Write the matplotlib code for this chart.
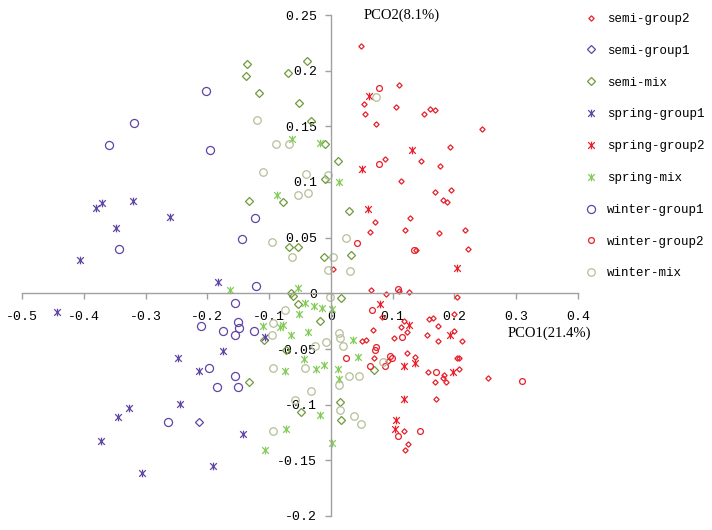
import matplotlib
matplotlib.use("Agg")
import matplotlib.pyplot as plt
from matplotlib.path import Path

# ---------------- data ----------------
semi_group2_x = [0.049, 0.110, 0.054, 0.106, 0.056, 0.151, 0.160, 0.169, 0.073, 0.244,
                 0.192, 0.146, 0.177, 0.087, 0.113, 0.168, 0.194, 0.182, 0.188, 0.128,
                 0.072, 0.063, 0.120, 0.175, 0.217, 0.138, 0.222, 0.004, 0.065, 0.089,
                 0.110, 0.127, 0.204,
                 0.083, 0.119, 0.113, 0.123, 0.068, 0.057, 0.051, 0.102, 0.156, 0.159,
                 0.165, 0.173, 0.173, 0.199, 0.199, 0.213, 0.123, 0.069, 0.092, 0.136,
                 0.158, 0.204, 0.207, 0.207, 0.183, 0.181, 0.169, 0.186, 0.255, 0.170,
                 0.119, 0.125, 0.120]
semi_group2_y = [0.222, 0.187, 0.170, 0.167, 0.161, 0.161, 0.166, 0.165, 0.152, 0.148,
                 0.131, 0.119, 0.114, 0.121, 0.101, 0.091, 0.093, 0.084, 0.082, 0.068,
                 0.064, 0.055, 0.057, 0.054, 0.057, 0.039, 0.040, 0.022, 0.003, -0.001,
                 0.002, 0.001, -0.003,
                 -0.021, -0.025, -0.030, -0.035, -0.033, -0.042, -0.043, -0.040, -0.037, -0.023,
                 -0.022, -0.029, -0.043, -0.034, -0.019, -0.043, -0.054, -0.058, -0.061, -0.057,
                 -0.071, -0.058, -0.058, -0.068, -0.073, -0.076, -0.080, -0.080, -0.076, -0.095,
                 -0.124, -0.135, -0.141]

semi_group1_x = [-0.214]
semi_group1_y = [-0.116]

semi_mix_x = [-0.135, -0.138, -0.069, -0.117, -0.052, -0.039, -0.032, -0.010, 0.011, -0.010,
              0.030, -0.011, 0.032, -0.132, -0.078, -0.068, -0.054, -0.065, -0.061, 0.016,
              0.069, 0.014, 0.016, -0.053, -0.018, -0.109, -0.132, -0.048, -0.072]
semi_mix_y = [0.206, 0.195, 0.198, 0.180, 0.171, 0.209, 0.155, 0.134, 0.119, 0.103,
              0.074, 0.033, 0.034, 0.083, 0.082, 0.042, 0.042, 0.000, -0.002, -0.004,
              -0.069, -0.098, -0.114, -0.010, -0.025, -0.042, -0.080, -0.107, -0.051]

spring_group1_x = [-0.380, -0.370, -0.321, -0.348, -0.260, -0.406, -0.183, -0.443, -0.247, -0.214,
                   -0.175, -0.245, -0.326, -0.344, -0.372, -0.306, -0.191, -0.142, -0.107]
spring_group1_y = [0.077, 0.081, 0.083, 0.059, 0.069, 0.030, 0.010, -0.017, -0.058, -0.070,
                   -0.052, -0.099, -0.103, -0.111, -0.133, -0.161, -0.155, -0.126, -0.039]

spring_group2_x = [0.062, 0.132, 0.051, 0.060, 0.204, 0.080, 0.127, 0.192, 0.119, 0.136,
                   0.197, 0.119, 0.106, 0.104]
spring_group2_y = [0.177, 0.129, 0.112, 0.076, 0.023, -0.010, -0.028, -0.037, -0.065, -0.063,
                   -0.071, -0.095, -0.114, -0.122]

spring_mix_x = [-0.063, -0.017, 0.013, -0.087, -0.054, -0.164, -0.042, -0.110, -0.082, -0.078,
                -0.065, -0.051, -0.037, -0.028, -0.015, 0.001, -0.043, -0.074, -0.024, -0.011,
                0.012, 0.013, -0.018, -0.072, -0.106, 0.001, 0.036, 0.044]
spring_mix_y = [0.139, 0.135, 0.100, 0.088, 0.005, 0.003, -0.009, -0.029, -0.030, -0.028,
                -0.037, -0.019, -0.035, -0.011, -0.013, -0.014, -0.059, -0.070, -0.068, -0.064,
                -0.068, -0.077, -0.109, -0.122, -0.141, -0.134, -0.042, -0.057]

winter_group1_x = [-0.202, -0.319, -0.359, -0.196, -0.123, -0.144, -0.343, -0.122, -0.155, -0.211,
                   -0.174, -0.155, -0.151, -0.148, -0.125, -0.198, -0.184, -0.155, -0.151, -0.264]
winter_group1_y = [0.182, 0.153, 0.133, 0.129, 0.068, 0.049, 0.040, 0.007, -0.009, -0.029,
                   -0.034, -0.037, -0.026, -0.031, -0.034, -0.067, -0.084, -0.074, -0.084, -0.116]

winter_group2_x = [0.078, 0.078, 0.043, 0.134, 0.108, 0.066, 0.115, 0.073, 0.071, 0.095,
                   0.099, 0.025, 0.063, 0.088, 0.170, 0.310, 0.144, 0.109]
winter_group2_y = [0.184, 0.116, 0.045, 0.039, 0.004, -0.015, -0.039, -0.048, -0.051, -0.056,
                   -0.058, -0.058, -0.065, -0.065, -0.071, -0.079, -0.124, -0.128]

winter_mix_x = [-0.119, -0.089, -0.067, -0.110, -0.041, -0.053, -0.037, -0.005, -0.095, -0.063,
                0.003, -0.004, 0.031, 0.025, -0.001, 0.073, -0.074, -0.094, -0.095, -0.008,
                -0.093, -0.042, -0.033, -0.058, -0.093, 0.013, 0.015, 0.019, 0.085, 0.030,
                0.046, 0.013, 0.014, 0.038, 0.048, -0.026]
winter_mix_y = [0.156, 0.134, 0.134, 0.109, 0.107, 0.088, 0.090, 0.106, 0.046, 0.033,
                0.033, 0.021, 0.020, 0.050, -0.003, 0.176, -0.015, -0.027, -0.037, -0.044,
                -0.067, -0.067, -0.088, -0.096, -0.124, -0.036, -0.040, -0.047, -0.062, -0.074,
                -0.074, -0.082, -0.105, -0.110, -0.117, -0.047]

x_ticks = [-0.5, -0.4, -0.3, -0.2, -0.1, 0.0, 0.1, 0.2, 0.3, 0.4]
x_tick_labels = ["-0.5", "-0.4", "-0.3", "-0.2", "-0.1", "0", "0.1", "0.2", "0.3", "0.4"]
y_ticks = [-0.2, -0.15, -0.1, -0.05, 0.0, 0.05, 0.1, 0.15, 0.2, 0.25]
y_tick_labels = ["-0.2", "-0.15", "-0.1", "-0.05", "0", "0.05", "0.1", "0.15", "0.2", "0.25"]
x_title = "PCO1(21.4%)"
y_title = "PCO2(8.1%)"

# ---------------- style ----------------
PURPLE = "#6045a5"
RED = "#e8202a"
OLIVE = "#6f9a3c"
LGREEN = "#84cc5a"
PALE = "#b4c098"

star = Path([(-1, -1), (1, 1), (-1, 1), (1, -1), (0, -1.15), (0, 1.15)],
            [Path.MOVETO, Path.LINETO, Path.MOVETO, Path.LINETO, Path.MOVETO, Path.LINETO])

series = [
    ("semi-group2", semi_group2_x, semi_group2_y, "D", RED, 2.7),
    ("semi-group1", semi_group1_x, semi_group1_y, "D", PURPLE, 3.8),
    ("semi-mix", semi_mix_x, semi_mix_y, "D", OLIVE, 3.8),
    ("spring-group1", spring_group1_x, spring_group1_y, star, PURPLE, 5.5),
    ("spring-group2", spring_group2_x, spring_group2_y, star, RED, 5.5),
    ("spring-mix", spring_mix_x, spring_mix_y, star, LGREEN, 5.5),
    ("winter-group1", winter_group1_x, winter_group1_y, "o", PURPLE, 5.8),
    ("winter-group2", winter_group2_x, winter_group2_y, "o", RED, 4.2),
    ("winter-mix", winter_mix_x, winter_mix_y, "o", PALE, 5.4),
]

fig = plt.figure(figsize=(7.12, 5.30), dpi=100)
ax = fig.add_axes([22 / 712, 14 / 530, 556 / 712, 501 / 530])

handles = []
for name, xs, ys, m, c, ms in series:
    ln, = ax.plot(xs, ys, linestyle="none", marker=m, markersize=ms,
                  markerfacecolor="none", markeredgecolor=c, markeredgewidth=0.9,
                  label=name, clip_on=False)
    handles.append(ln)

ax.set_xlim(-0.5, 0.4)
ax.set_ylim(-0.2, 0.25)

for side in ("top", "right"):
    ax.spines[side].set_visible(False)
ax.spines["left"].set_position(("data", 0))
ax.spines["bottom"].set_position(("data", 0))
for side in ("left", "bottom"):
    ax.spines[side].set_color("#a0a0a0")
    ax.spines[side].set_linewidth(1.0)

ax.set_xticks(x_ticks)
ax.set_xticklabels(x_tick_labels)
ax.set_yticks(y_ticks)
ax.set_yticklabels(y_tick_labels)
ax.tick_params(axis="both", direction="out", length=4, width=1.0, color="#a0a0a0",
               labelsize=9.5, labelcolor="black")
ax.tick_params(axis="x", pad=9)
ax.tick_params(axis="y", pad=6)
for lab in ax.get_xticklabels() + ax.get_yticklabels():
    lab.set_family("Liberation Mono")

ax.text(0.114, 0.25, y_title, ha="center", va="center", fontsize=10.5,
        family="Liberation Serif", clip_on=False)
ax.text(0.353, -0.0356, x_title, ha="center", va="center", fontsize=10.5,
        family="Liberation Serif", clip_on=False)

leg = fig.legend(handles=handles, loc="upper left", bbox_to_anchor=(586 / 712, 1 - 13 / 530),
                 frameon=False, borderpad=0, borderaxespad=0, handlelength=0.8,
                 handletextpad=0.85, labelspacing=1.585,
                 prop={"family": "Liberation Mono", "size": 9})

fig.savefig("out.png", dpi=100)
